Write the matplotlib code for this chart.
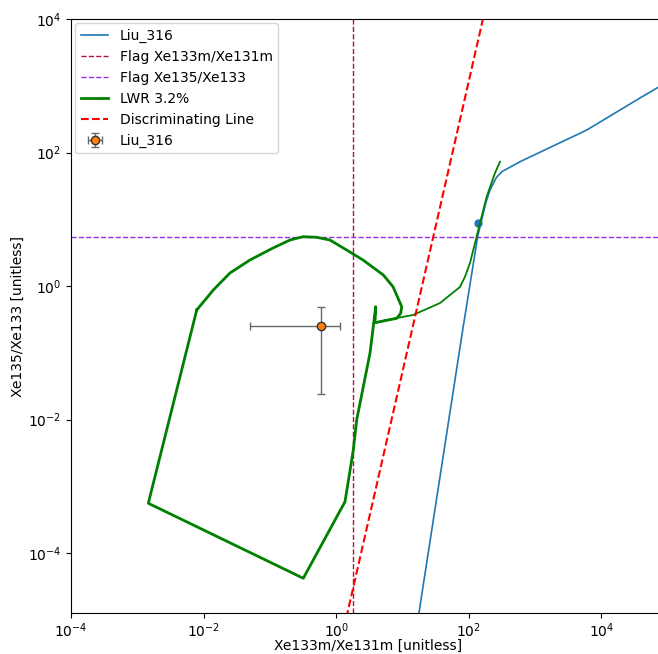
import matplotlib
matplotlib.use('Agg')
import matplotlib.pyplot as plt
import matplotlib.ticker as mticker

# Liu_316 curve
liu_x = [15.8, 17.7, 80.9, 136.1, 180.0, 208.9, 260.0, 313.3, 591.6, 5998, 38190, 82040, 1.0e5]
liu_y = [5.0e-6, 1.26e-5, 0.219, 5.48, 17.5, 27.4, 42.0, 51.5, 72.8, 217, 656, 1026, 1150]
liu_mark_x = [136.0]
liu_mark_y = [8.9]

# LWR 3.2% trajectory (loop + tail)
lwr_x = [0.00787, 0.001466, 0.319, 1.358, 1.811, 2.037, 3.236, 3.945, 3.846,
         8.18, 9.4, 9.73, 7.19, 5.14, 2.535, 1.44, 0.805, 0.508, 0.3155, 0.201,
         0.1114, 0.0501, 0.0250, 0.0140, 0.00787]
lwr_y = [0.436, 0.000556, 4.18e-5, 5.87e-4, 3.49e-3, 9.84e-3, 0.0991, 0.490, 0.282,
         0.328, 0.390, 0.490, 0.977, 1.46, 2.455, 3.46, 4.89, 5.37, 5.48, 4.89,
         3.71, 2.455, 1.567, 0.871, 0.436]
tail_x = [3.846, 5.78, 14.4, 36.8, 52.0, 73.6, 87.7, 104.2, 124.2, 147.6, 186.2, 248.3, 295.8]
tail_y = [0.282, 0.310, 0.368, 0.556, 0.733, 0.966, 1.38, 2.21, 4.41, 8.79, 21.8, 49.3, 72.8]

# flags and discriminating line
flag_xe133m = 1.8
flag_xe135 = 5.5
disc_x = [1.2, 200]
disc_y = [5.1e-6, 2.4e4]

# measured sample
meas_x = [0.583]
meas_y = [0.254]
meas_xerr = [[0.533], [0.557]]
meas_yerr = [[0.230], [0.236]]

fig = plt.figure(figsize=(6.58, 6.54), dpi=100)
ax = fig.add_axes([0.1079, 0.0627, 0.9027, 0.9082])

ax.plot(liu_x, liu_y, color='tab:blue', lw=1.2, label='Liu_316')
ax.plot(liu_mark_x, liu_mark_y, 'o', color='tab:blue', ms=5)
ax.axvline(flag_xe133m, color='#b0103a', ls='--', lw=1, label='Flag Xe133m/Xe131m')
ax.axhline(flag_xe135, color='#9030e8', ls='--', lw=1, label='Flag Xe135/Xe133')
ax.plot(lwr_x, lwr_y, color='green', lw=2, label='LWR 3.2%')
ax.plot(tail_x, tail_y, color='green', lw=1.3)
ax.plot(disc_x, disc_y, 'r--', lw=1.5, label='Discriminating Line')
ax.errorbar(meas_x, meas_y, xerr=meas_xerr, yerr=meas_yerr, fmt='o',
            color='tab:orange', mec='#333333', ms=6, ecolor='dimgray',
            elinewidth=1, capsize=3, label='Liu_316')

ax.set_xscale('log')
ax.set_yscale('log')
ax.set_xlim(1e-4, 10 ** 4.959)
ax.set_ylim(10 ** -4.899, 1e4)
ax.xaxis.set_major_locator(mticker.FixedLocator([1e-4, 1e-2, 1e0, 1e2, 1e4]))
ax.yaxis.set_major_locator(mticker.FixedLocator([1e-4, 1e-2, 1e0, 1e2, 1e4]))
ax.xaxis.set_minor_locator(mticker.NullLocator())
ax.yaxis.set_minor_locator(mticker.NullLocator())
ax.xaxis.set_major_formatter(mticker.LogFormatterMathtext())
ax.yaxis.set_major_formatter(mticker.LogFormatterMathtext())
ax.tick_params(axis='x', pad=2.5)

ax.set_xlabel('Xe133m/Xe131m [unitless]', fontsize=10, labelpad=-1)
ax.set_ylabel('Xe135/Xe133 [unitless]', fontsize=10, labelpad=2)
ax.legend(loc='upper left', fontsize=10, borderaxespad=0.3)

fig.savefig('out.png', dpi=100)
